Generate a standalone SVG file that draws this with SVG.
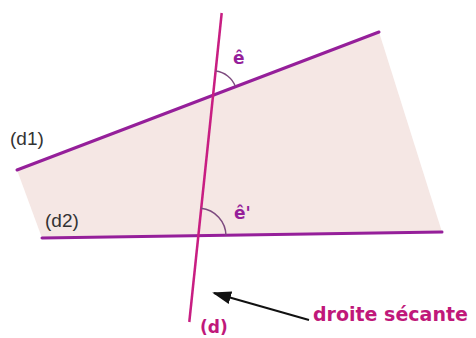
<svg xmlns="http://www.w3.org/2000/svg" width="476" height="338" viewBox="0 0 476 338">
<defs>
<style>
.pl{stroke:#951f9a;stroke-width:3;fill:none;stroke-linecap:round}
.sec{stroke:#c81e82;stroke-width:2.5;fill:none}
.arc{stroke:#7d4a7f;stroke-width:1.5;fill:none}
.lab{font-family:"Liberation Sans",Arial,sans-serif;font-size:19px;fill:#333}
.ang{font-family:"DejaVu Sans",sans-serif;font-weight:bold;font-size:17px;fill:#951f9a}
.red{font-family:"DejaVu Sans",sans-serif;font-weight:bold;fill:#c0187a}
</style>
<marker id="ah" viewBox="0 0 10 10" refX="9" refY="5" markerWidth="19" markerHeight="13" markerUnits="userSpaceOnUse" orient="auto-start-reverse" preserveAspectRatio="none">
<path d="M0,0 L10,5 L0,10 z" fill="#111"/>
</marker>
</defs>
<rect width="476" height="338" fill="#fff"/>
<g id="region">
<polygon points="17,170 379,32 442,232 42,238" fill="#f5e7e4"/>
</g>
<g id="connectors">
<line id="d1" class="pl" x1="17" y1="170" x2="379" y2="32"/>
<line id="d2" class="pl" x1="42" y1="238" x2="442" y2="232"/>
<line id="d" class="sec" x1="221.7" y1="13" x2="189.3" y2="322"/>
<line id="arrow" x1="309" y1="320" x2="214" y2="293" stroke="#111" stroke-width="2" marker-end="url(#ah)"/>
</g>
<g id="angle-e">
<path class="arc" d="M215.5,71.1 A24,24 0 0 1 235.4,86.5"/>
<text class="ang" x="233" y="64">ê</text>
</g>
<g id="angle-e2">
<path class="arc" d="M200.9,208.2 A28,28 0 0 1 226,235.6"/>
<text class="ang" x="234" y="219">ê'</text>
</g>
<g id="label-d1"><text class="lab" x="10" y="145">(d1)</text></g>
<g id="label-d2"><text class="lab" x="45" y="227">(d2)</text></g>
<g id="label-d"><text class="red" x="200" y="333" font-size="17">(d)</text></g>
<g id="label-secante"><text class="red" x="313" y="321" font-size="19">droite sécante</text></g>
</svg>
